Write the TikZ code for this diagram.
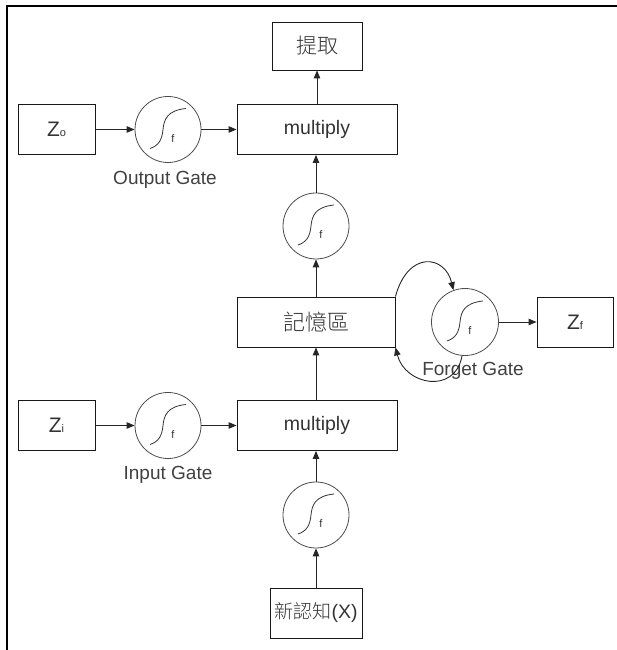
\documentclass[tikz,border=0pt]{standalone}
\usepackage{fontspec}
\setmainfont{Liberation Sans}
\newfontfamily\cjk{Noto Sans CJK TC Light}
\usetikzlibrary{arrows.meta,calc}
\tikzset{
  boxnode/.style={draw=black!90, line width=0.9pt, minimum height=50pt, inner sep=0pt, text=black!80, font=\fontsize{19.5}{21}\selectfont},
  signode/.style={draw=black!70, circle, line width=0.8pt, minimum size=66pt, inner sep=0pt},
  lbl/.style={text=black!75, font=\fontsize{19}{21}\selectfont, inner sep=0pt},
  conn/.style={draw=black!85, line width=0.9pt, -{Triangle[length=8pt,width=6.5pt]}},
  sigcurve/.style={draw=black!80, line width=0.8pt},
}
\newcommand\sigmark[1]{%
  \draw[sigcurve, shift={(#1.center)}] (-18,-19) .. controls (-9,-16) and (-6,-10) .. (-5,0) .. controls (-4,10) and (-1,19) .. (18,21);
  \node[text=black!80, font=\fontsize{11}{11}\selectfont, inner sep=0pt] at ($(#1.center)+(5,-9)$) {f};
}
\newcommand\zsub[1]{{\fontsize{21}{21}\selectfont Z}{\fontsize{11}{11}\selectfont #1}}
\begin{document}
\begin{tikzpicture}[x=1pt,y=1pt]
\useasboundingbox (0,0) rectangle (617,650);
\draw[line width=1.2pt] (7,0) -- (7,644) -- (617,644);

\node[boxnode, minimum width=90pt, minimum height=48pt] (tq) at (317,604) {{\cjk\fontsize{21}{21}\selectfont 提取}};
\node[boxnode, minimum width=160pt] (mul1) at (317,520.5) {multiply};
\node[boxnode, minimum width=77pt] (zo) at (56.5,520.5) {\zsub{o}};
\node[signode] (sgo) at (168,520.5) {};
\node[lbl] (lo) at (165,470.5) {Output Gate};

\node[signode] (sgm) at (316,424) {};

\node[boxnode, minimum width=158pt] (mem) at (316,328) {{\cjk\fontsize{22}{22}\selectfont 記憶區}};
\node[signode, minimum size=67pt] (fg) at (465,328) {};
\node[boxnode, minimum width=76pt] (zf) at (575,328) {\zsub{f}};
\node[lbl] (lf) at (473,279.5) {Forget Gate};

\node[boxnode, minimum width=77pt] (zi) at (56.5,224.5) {\zsub{i}};
\node[signode] (sgi) at (168,224.5) {};
\node[boxnode, minimum width=160pt] (mul2) at (317,224.5) {multiply};
\node[lbl] (li) at (168,175.5) {Input Gate};

\node[signode] (sgb) at (316,135) {};
\node[boxnode, minimum width=92pt] (nx) at (316,37) {{\cjk\fontsize{19}{19}\selectfont 新認知}{\fontsize{19.5}{19.5}\selectfont(X)}};

\sigmark{sgo}
\sigmark{sgm}
\sigmark{fg}
\sigmark{sgi}
\sigmark{sgb}

\draw[conn] (zo) -- (sgo);
\draw[conn] (sgo) -- (mul1);
\draw[conn] (mul1.north -| tq.south) -- (tq.south);
\draw[conn] (sgm.north) -- (sgm.north |- mul1.south);
\draw[conn] (mem.north -| sgm.south) -- (sgm.south);
\draw[conn] (mul2.north -| mem.south) -- (mem.south);
\draw[conn] (zi) -- (sgi);
\draw[conn] (sgi) -- (mul2);
\draw[conn] (sgb.north) -- (sgb.north |- mul2.south);
\draw[conn] (nx.north) -- (sgb.south);
\draw[conn] (fg) -- (zf);
\draw[conn] (mem.north east) .. controls (408,400) and (445,395) .. (fg.110);
\draw[conn] (fg.-95) .. controls (455,255) and (405,265) .. (mem.south east);
\end{tikzpicture}
\end{document}
